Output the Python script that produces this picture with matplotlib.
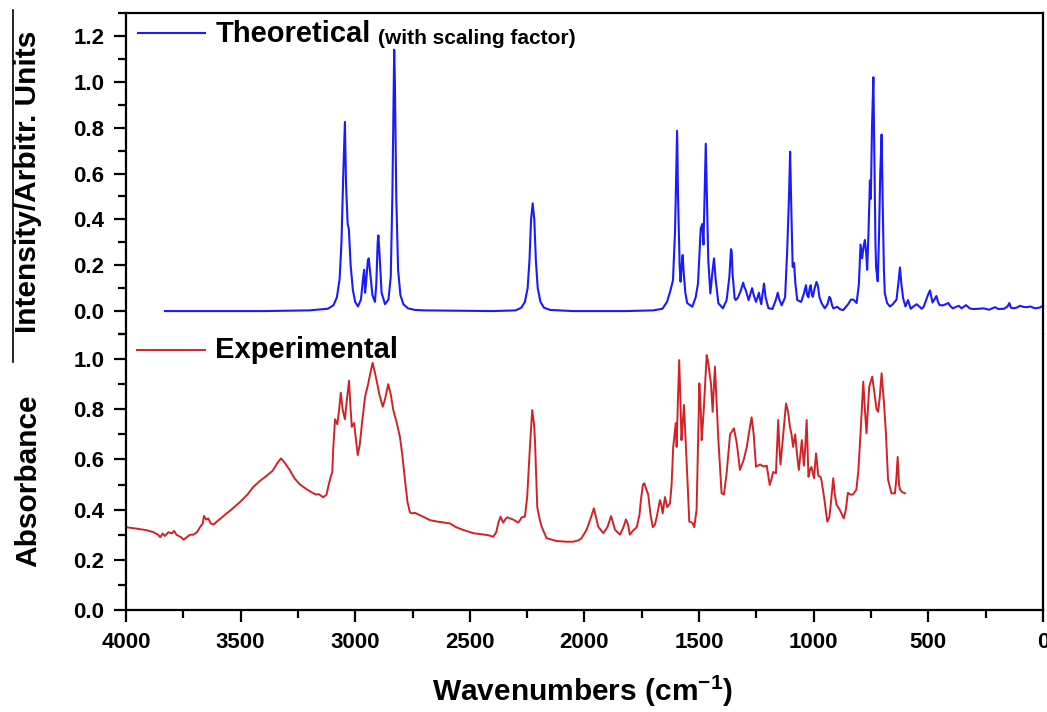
import matplotlib
matplotlib.use("Agg")
import matplotlib.pyplot as plt
from matplotlib.lines import Line2D
from matplotlib.ticker import MultipleLocator

# ---------------- data ----------------
# theoretical spectrum: (wavenumber, intensity)
theo_ch = [(3830, 0.0), (3400, 0.0), (3200, 0.003), (3120, 0.01), (3095, 0.025),
           (3080, 0.06), (3068, 0.14), (3060, 0.3), (3052, 0.6), (3045, 0.825),
           (3040, 0.55), (3033, 0.38), (3028, 0.36), (3020, 0.2), (3010, 0.09),
           (3000, 0.04), (2988, 0.02), (2975, 0.05), (2965, 0.15), (2961, 0.18),
           (2957, 0.08), (2953, 0.12), (2945, 0.22), (2941, 0.23), (2935, 0.17),
           (2925, 0.07), (2914, 0.04), (2908, 0.12), (2902, 0.3), (2899, 0.33),
           (2894, 0.25), (2885, 0.08), (2870, 0.03), (2855, 0.05), (2845, 0.15),
           (2838, 0.5), (2832, 1.0), (2830, 1.14), (2827, 1.0), (2821, 0.5),
           (2813, 0.18), (2803, 0.07), (2790, 0.03), (2770, 0.012), (2740, 0.005),
           (2700, 0.003), (2400, 0.0)]
theo_cn = [(2300, 0.003), (2275, 0.015), (2260, 0.04), (2248, 0.1), (2240, 0.22),
           (2233, 0.4), (2226, 0.47), (2219, 0.4), (2212, 0.22), (2204, 0.1),
           (2192, 0.04), (2177, 0.015), (2150, 0.005), (2050, 0.0), (1820, 0.0),
           (1700, 0.003), (1660, 0.01)]
theo_fp = [(1640, 0.04), (1625, 0.09), (1614, 0.135), (1605, 0.35), (1600, 0.6),
           (1596, 0.786), (1592, 0.5), (1585, 0.2), (1581, 0.128), (1576, 0.2),
           (1572, 0.244), (1566, 0.15), (1560, 0.08), (1552, 0.035), (1530, 0.019),
           (1515, 0.06), (1505, 0.12), (1493, 0.36), (1486, 0.38), (1481, 0.29),
           (1476, 0.5), (1471, 0.73), (1466, 0.5), (1460, 0.22), (1451, 0.077),
           (1441, 0.18), (1435, 0.23), (1428, 0.14), (1416, 0.034), (1396, 0.012),
           (1380, 0.048), (1368, 0.15), (1361, 0.27), (1358, 0.26), (1354, 0.16),
           (1345, 0.055), (1340, 0.048), (1330, 0.06), (1318, 0.09), (1308, 0.124),
           (1303, 0.106), (1296, 0.09), (1284, 0.048), (1275, 0.08), (1269, 0.10),
           (1262, 0.07), (1252, 0.04), (1245, 0.06), (1239, 0.08), (1234, 0.05),
           (1229, 0.03), (1224, 0.07), (1217, 0.12), (1210, 0.06), (1198, 0.013),
           (1180, 0.009), (1165, 0.05), (1157, 0.08), (1150, 0.05), (1140, 0.025),
           (1125, 0.06), (1116, 0.26), (1108, 0.5), (1103, 0.695), (1098, 0.45),
           (1092, 0.193), (1086, 0.21), (1080, 0.12), (1072, 0.048), (1055, 0.04),
           (1042, 0.08), (1034, 0.113), (1029, 0.07), (1023, 0.06), (1018, 0.1),
           (1013, 0.113), (1008, 0.07), (1004, 0.062), (996, 0.1), (988, 0.127),
           (982, 0.11), (975, 0.06), (966, 0.035), (952, 0.012), (940, 0.03),
           (932, 0.062), (927, 0.055), (920, 0.025), (915, 0.012), (905, 0.015),
           (898, 0.019), (885, 0.008), (872, 0.004), (850, 0.03), (838, 0.05)]
theo_low = [(827, 0.05), (813, 0.035), (803, 0.12), (796, 0.29), (789, 0.23),
            (783, 0.28), (777, 0.31), (771, 0.25), (767, 0.18), (761, 0.35),
            (755, 0.57), (751, 0.49), (746, 0.8), (740, 1.02), (735, 0.6),
            (731, 0.3), (728, 0.19), (721, 0.13), (716, 0.3), (710, 0.6),
            (704, 0.77), (699, 0.45), (694, 0.18), (690, 0.077), (680, 0.035),
            (668, 0.02), (655, 0.03), (639, 0.05), (630, 0.13), (624, 0.19),
            (618, 0.12), (610, 0.055), (600, 0.02), (589, 0.048), (577, 0.01),
            (565, 0.02), (551, 0.03), (540, 0.02), (529, 0.01), (520, 0.02),
            (511, 0.045), (500, 0.075), (493, 0.09), (487, 0.06), (482, 0.037),
            (474, 0.05), (465, 0.066), (458, 0.04), (451, 0.026), (435, 0.025),
            (413, 0.035), (403, 0.02), (393, 0.012), (380, 0.018), (368, 0.023),
            (355, 0.012), (336, 0.026), (320, 0.012), (307, 0.009), (280, 0.01),
            (260, 0.012), (235, 0.006), (209, 0.017), (195, 0.009), (170, 0.01),
            (155, 0.02), (147, 0.035), (140, 0.015), (130, 0.012), (115, 0.015),
            (100, 0.023), (85, 0.018), (70, 0.017), (55, 0.02), (35, 0.012),
            (15, 0.015), (6, 0.02), (0, 0.02)]

# experimental spectrum: (wavenumber, absorbance)
exp_hi = [(4000, 0.33), (3960, 0.325), (3910, 0.318), (3880, 0.31), (3860, 0.30),
          (3850, 0.29), (3840, 0.305), (3830, 0.295), (3815, 0.31), (3800, 0.305),
          (3790, 0.315), (3780, 0.30), (3760, 0.29), (3748, 0.28), (3735, 0.29),
          (3720, 0.30), (3706, 0.30), (3690, 0.31), (3677, 0.33), (3665, 0.345),
          (3660, 0.375), (3650, 0.36), (3641, 0.365), (3630, 0.345), (3619, 0.34),
          (3600, 0.355), (3580, 0.37), (3561, 0.385), (3540, 0.40), (3503, 0.43),
          (3470, 0.46), (3445, 0.49), (3415, 0.515), (3386, 0.535), (3360, 0.555),
          (3340, 0.585), (3324, 0.604), (3310, 0.59), (3285, 0.557), (3265, 0.525),
          (3241, 0.50), (3210, 0.48), (3183, 0.465), (3170, 0.46), (3160, 0.462),
          (3139, 0.449), (3125, 0.46), (3118, 0.49), (3107, 0.53), (3100, 0.55),
          (3096, 0.64), (3088, 0.76), (3078, 0.74), (3070, 0.80), (3063, 0.866),
          (3055, 0.80), (3045, 0.76), (3035, 0.85), (3027, 0.914), (3020, 0.80),
          (3015, 0.73), (3005, 0.745), (2997, 0.68), (2989, 0.617), (2980, 0.66),
          (2971, 0.74), (2957, 0.85), (2943, 0.903), (2935, 0.94), (2924, 0.985),
          (2915, 0.95), (2907, 0.916), (2895, 0.86), (2880, 0.81), (2870, 0.84),
          (2856, 0.90), (2845, 0.86), (2834, 0.797), (2820, 0.75), (2805, 0.69),
          (2795, 0.62), (2783, 0.518), (2772, 0.43), (2761, 0.388), (2750, 0.385),
          (2739, 0.387), (2718, 0.378), (2700, 0.37), (2674, 0.358), (2640, 0.352)]
exp_mid = [(2587, 0.345), (2560, 0.33), (2529, 0.319), (2485, 0.306), (2450, 0.302),
           (2420, 0.298), (2398, 0.292), (2385, 0.31), (2375, 0.35), (2366, 0.372),
           (2358, 0.355), (2354, 0.348), (2345, 0.362), (2337, 0.369), (2310, 0.36),
           (2289, 0.348), (2280, 0.36), (2274, 0.369), (2260, 0.372), (2250, 0.45),
           (2238, 0.65), (2228, 0.797), (2220, 0.74), (2216, 0.677), (2206, 0.41),
           (2195, 0.36), (2187, 0.332), (2165, 0.286), (2122, 0.275), (2080, 0.272),
           (2049, 0.272), (2025, 0.278), (2013, 0.286), (1991, 0.319), (1975, 0.36),
           (1959, 0.405), (1950, 0.37), (1940, 0.332), (1918, 0.306), (1900, 0.33),
           (1884, 0.374), (1875, 0.345), (1867, 0.32), (1845, 0.30), (1830, 0.33),
           (1819, 0.361), (1810, 0.34), (1802, 0.30), (1790, 0.315), (1772, 0.33),
           (1760, 0.38), (1754, 0.438), (1745, 0.50), (1739, 0.505), (1730, 0.48),
           (1722, 0.46), (1712, 0.38), (1702, 0.33), (1693, 0.34), (1685, 0.37),
           (1671, 0.438), (1665, 0.42), (1659, 0.385), (1649, 0.45), (1644, 0.43),
           (1639, 0.41), (1627, 0.425)]
exp_fp = [(1620, 0.50), (1613, 0.65), (1607, 0.70), (1602, 0.745), (1598, 0.65),
          (1592, 0.85), (1587, 0.996), (1582, 0.85), (1577, 0.677), (1571, 0.75),
          (1566, 0.817), (1562, 0.74), (1557, 0.65), (1550, 0.50), (1543, 0.352),
          (1535, 0.35), (1528, 0.345), (1521, 0.33), (1511, 0.40), (1505, 0.65),
          (1499, 0.903), (1493, 0.80), (1489, 0.677), (1484, 0.74), (1479, 0.81),
          (1472, 0.93), (1467, 1.016), (1461, 0.99), (1456, 0.956), (1448, 0.90),
          (1441, 0.79), (1436, 0.88), (1431, 0.97), (1424, 0.83), (1416, 0.677),
          (1402, 0.465), (1392, 0.46), (1380, 0.545), (1365, 0.70), (1348, 0.724),
          (1335, 0.66), (1322, 0.558), (1305, 0.60), (1292, 0.65), (1280, 0.72),
          (1271, 0.768), (1262, 0.70), (1252, 0.571), (1234, 0.58), (1220, 0.572),
          (1205, 0.575), (1192, 0.498), (1185, 0.52), (1177, 0.55), (1165, 0.545),
          (1155, 0.757), (1150, 0.65), (1145, 0.58), (1135, 0.68), (1121, 0.823),
          (1112, 0.79), (1104, 0.73), (1097, 0.70), (1090, 0.65), (1081, 0.70),
          (1073, 0.62), (1065, 0.558), (1058, 0.62), (1052, 0.677), (1043, 0.575),
          (1037, 0.65), (1031, 0.757), (1023, 0.531), (1016, 0.56), (1010, 0.57),
          (999, 0.525), (990, 0.624), (980, 0.535), (970, 0.53), (966, 0.515)]
exp_low = [(955, 0.45), (941, 0.352), (932, 0.37), (927, 0.41), (915, 0.525),
           (908, 0.46), (901, 0.42), (887, 0.40), (869, 0.365), (860, 0.40),
           (851, 0.467), (840, 0.46), (829, 0.46), (814, 0.48), (805, 0.56),
           (796, 0.704), (784, 0.91), (777, 0.80), (770, 0.704), (758, 0.89),
           (745, 0.93), (735, 0.86), (726, 0.80), (719, 0.79), (712, 0.85),
           (704, 0.943), (694, 0.83), (685, 0.70), (676, 0.52), (661, 0.465),
           (646, 0.465), (640, 0.52), (634, 0.61), (628, 0.50), (624, 0.48),
           (615, 0.47), (602, 0.465)]

x_ticks = [4000, 3500, 3000, 2500, 2000, 1500, 1000, 500, 0]

theo_wn, theo_int = zip(*(theo_ch + theo_cn + theo_fp + theo_low))
exp_wn, exp_abs = zip(*(exp_hi + exp_mid + exp_fp + exp_low))

blue = "#1a1aff"
red = "#d22228"

plt.rcParams['font.family'] = ['Liberation Sans', 'DejaVu Sans']
plt.rcParams['font.weight'] = 'bold'
plt.rcParams['mathtext.fontset'] = 'custom'
plt.rcParams['mathtext.rm'] = 'Liberation Sans:bold'
plt.rcParams['mathtext.bf'] = 'Liberation Sans:bold'

fig = plt.figure(figsize=(10.47, 7.12), dpi=100)
ax1 = fig.add_axes([0.1203, 0.5309, 0.8759, 0.4508])
ax2 = fig.add_axes([0.1203, 0.1433, 0.8759, 0.3876])

ax1.plot(theo_wn, theo_int, color=blue, lw=1.5)
ax2.plot(exp_wn, exp_abs, color=red, lw=1.4)

for ax in (ax1, ax2):
    ax.set_xlim(4000, 0)
    ax.yaxis.set_major_locator(MultipleLocator(0.2))
    ax.yaxis.set_minor_locator(MultipleLocator(0.1))
    for s in ax.spines.values():
        s.set_linewidth(1.6)
    ax.tick_params(axis='y', which='major', direction='out', length=8.6, width=1.6,
                   labelsize=16, pad=7)
    ax.tick_params(axis='y', which='minor', direction='out', length=5.5, width=1.6)

ax1.set_ylim(-0.1, 1.3)
ax2.set_ylim(0, 1.1)

ax1.spines['bottom'].set_visible(False)
ax2.spines['top'].set_visible(False)
ax1.set_xticks([])

ax2.set_xticks(x_ticks)
ax2.xaxis.set_minor_locator(MultipleLocator(250))
ax2.tick_params(axis='x', which='major', direction='out', length=8.6, width=1.6,
                labelsize=16, pad=7)
ax2.tick_params(axis='x', which='minor', direction='out', length=5.5, width=1.6)

# legends drawn by hand
ax1.plot([0.013, 0.086], [0.938, 0.938], transform=ax1.transAxes, color=blue, lw=1.5)
t = ax1.text(0.098, 0.935, 'Theoretical', transform=ax1.transAxes, fontsize=21,
             fontweight='bold', va='center')
ax1.annotate('(with scaling factor)', xy=(1, 0), xycoords=t, xytext=(5, 0),
             textcoords='offset points', fontsize=15, fontweight='bold', va='bottom')

ax2.plot([0.012, 0.086], [0.942, 0.942], transform=ax2.transAxes, color=red, lw=1.4)
ax2.text(0.097, 0.942, 'Experimental', transform=ax2.transAxes, fontsize=21,
         fontweight='bold', va='center')

# axis labels
fig.text(36 / 1047, 0.745, 'Intensity/Arbitr. Units', rotation=90, fontsize=21.5,
         fontweight='bold', ha='center', va='baseline', rotation_mode='anchor')
fig.text(36 / 1047, 0.325, 'Absorbance', rotation=90, fontsize=21.5,
         fontweight='bold', ha='center', va='baseline', rotation_mode='anchor')
fig.text(0.556, 0.0155, r'Wavenumbers (cm$^{\mathbf{-1}}$)', fontsize=21.5,
         fontweight='bold', ha='center', va='baseline')

# thin vertical rule at the far left of the original
fig.add_artist(Line2D([12.5 / 1047, 12.5 / 1047], [1 - 10 / 712, 1 - 362 / 712],
                      color='black', lw=1.2))

fig.savefig('out.png', dpi=100)
